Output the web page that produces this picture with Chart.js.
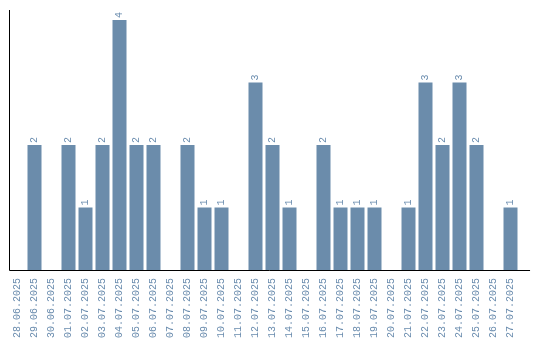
<!DOCTYPE html>
<html>
<head>
<meta charset="utf-8">
<script src="https://cdn.jsdelivr.net/npm/chart.js@4"></script>
<style>
  html, body { margin: 0; padding: 0; background: #fff; }
  #wrap { width: 540px; height: 340px; }
</style>
</head>
<body>
<div id="wrap"><canvas id="barChart"></canvas></div>
<script>
'use strict';

const dates = [
    '28.06.2025', '29.06.2025', '30.06.2025', '01.07.2025', '02.07.2025', '03.07.2025',
    '04.07.2025', '05.07.2025', '06.07.2025', '07.07.2025', '08.07.2025', '09.07.2025',
    '10.07.2025', '11.07.2025', '12.07.2025', '13.07.2025', '14.07.2025', '15.07.2025',
    '16.07.2025', '17.07.2025', '18.07.2025', '19.07.2025', '20.07.2025', '21.07.2025',
    '22.07.2025', '23.07.2025', '24.07.2025', '25.07.2025', '26.07.2025', '27.07.2025'
];
const counts = [0, 2, 0, 2, 1, 2, 4, 2, 2, 0, 2, 1, 1, 0, 3, 2, 1, 0, 2, 1, 1, 1, 0, 1, 3, 2, 3, 2, 0, 1];

const barColor = '#6b8cab';
const textColor = '#6a8cae';
const monoFont = { family: 'Liberation Mono', size: 10 };

// Zahlen ueber den Balken, gedreht wie die Achsenbeschriftung
const valueLabels = {
    id: 'valueLabels',
    afterDatasetsDraw(chart) {
        const c = chart.ctx;
        const meta = chart.getDatasetMeta(0);
        c.save();
        c.fillStyle = textColor;
        c.font = monoFont.size + 'px "' + monoFont.family + '"';
        c.textAlign = 'left';
        c.textBaseline = 'middle';
        meta.data.forEach(function(bar, i) {
            const v = counts[i];
            if (!v) return;
            c.save();
            c.translate(bar.x, bar.y - 2);
            c.rotate(-Math.PI / 2);
            c.fillText(String(v), 0, 0);
            c.restore();
        });
        c.restore();
    }
};

// Achsenlinien (unten etwas laenger als die Kategorien)
const axisLines = {
    id: 'axisLines',
    afterDraw(chart) {
        const a = chart.chartArea;
        const c = chart.ctx;
        const step = chart.scales.x.width / dates.length;
        c.save();
        c.strokeStyle = '#000';
        c.lineWidth = 1;
        c.beginPath();
        c.moveTo(Math.round(a.left) + 0.5, a.top);
        c.lineTo(Math.round(a.left) + 0.5, Math.round(a.bottom) + 0.5);
        c.lineTo(a.right + step * 0.65, Math.round(a.bottom) + 0.5);
        c.stroke();
        c.restore();
    }
};

new Chart(document.getElementById('barChart'), {
    type: 'bar',
    data: {
        labels: dates,
        datasets: [{
            data: counts,
            backgroundColor: barColor,
            borderWidth: 0,
            categoryPercentage: 1,
            barPercentage: 14 / 17
        }]
    },
    options: {
        responsive: true,
        maintainAspectRatio: false,
        animation: false,
        layout: { padding: { left: 9, top: 10, right: 21, bottom: 0 } },
        plugins: {
            legend: { display: false },
            tooltip: { enabled: false }
        },
        scales: {
            x: {
                grid: { display: false },
                border: { display: false },
                ticks: {
                    autoSkip: false,
                    minRotation: 90,
                    maxRotation: 90,
                    padding: 0,
                    color: textColor,
                    font: monoFont
                },
                afterFit: function(scale) { scale.height = 70; }
            },
            y: {
                min: 0,
                max: 4.16,
                grid: { display: false },
                border: { display: false },
                ticks: { display: false },
                afterFit: function(scale) { scale.width = 0; }
            }
        }
    },
    plugins: [valueLabels, axisLines]
});
</script>
</body>
</html>
